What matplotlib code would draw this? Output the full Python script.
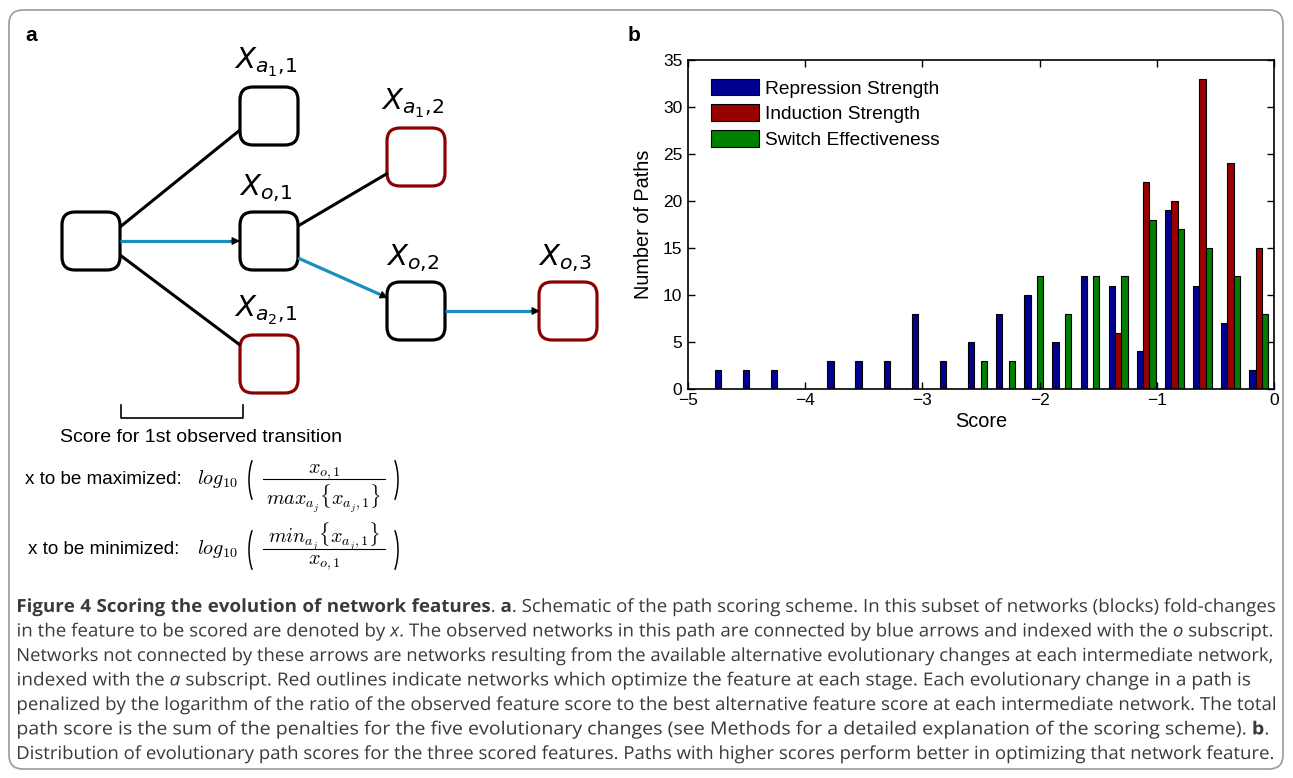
import matplotlib.pyplot as plt
from matplotlib.patches import FancyBboxPatch, PathPatch, Arc
from matplotlib.textpath import TextPath
from matplotlib.font_manager import FontProperties
import matplotlib.transforms as mtransforms
import numpy as np

W, H = 1293, 778

# histogram bins (centres) and counts for the three scored features
BIN_CENTERS = [-4.69, -4.45, -4.21, -3.97, -3.73, -3.49, -3.25, -3.01, -2.77, -2.53,
               -2.29, -2.05, -1.81, -1.57, -1.33, -1.09, -0.85, -0.61, -0.37, -0.13]
REPRESSION = [2, 2, 2, 0, 3, 3, 3, 8, 3, 5, 8, 10, 5, 12, 11, 4, 19, 11, 7, 2]
INDUCTION = [0, 0, 0, 0, 0, 0, 0, 0, 0, 0, 0, 0, 0, 0, 6, 22, 20, 33, 24, 15]
SWITCH = [0, 0, 0, 0, 0, 0, 0, 0, 0, 3, 3, 12, 8, 12, 12, 18, 17, 15, 12, 8]
SERIES_NAMES = ['Repression Strength', 'Induction Strength', 'Switch Effectiveness']
SERIES_COLORS = ['#000090', '#990000', '#007f00']
X_TICKS = [-5, -4, -3, -2, -1, 0]
Y_TICKS = [0, 5, 10, 15, 20, 25, 30, 35]

# schematic nodes: label, red outline
NODE_LABELS = ['', r'$X_{a_1,\!1}$', r'$X_{o,\!1}$', r'$X_{a_2,\!1}$',
               r'$X_{a_1,\!2}$', r'$X_{o,\!2}$', r'$X_{o,\!3}$']
NODE_RED = [False, False, False, True, True, False, True]

# score formulas: label, numerator, denominator
FORMULAS = [
    ('x to be maximized:', r'$x_{o,1}$', r'$max_{a_j}\{x_{a_j,1}\}$'),
    ('x to be minimized:', r'$min_{a_j}\{x_{a_j,1}\}$', r'$x_{o,1}$'),
]

CAPTION_LINES = [
    r'$\mathbf{Figure\ 4\ Scoring\ the\ evolution\ of\ network\ features}$. $\mathbf{a}$. '
    r'Schematic of the path scoring scheme. In this subset of networks (blocks) fold-changes',
    r'in the feature to be scored are denoted by $\mathit{x}$. The observed networks in this path '
    r'are connected by blue arrows and indexed with the $\mathit{o}$ subscript.',
    'Networks not connected by these arrows are networks resulting from the available '
    'alternative evolutionary changes at each intermediate network,',
    r'indexed with the $\mathit{a}$ subscript. Red outlines indicate networks which optimize '
    'the feature at each stage. Each evolutionary change in a path is',
    'penalized by the logarithm of the ratio of the observed feature score to the best '
    'alternative feature score at each intermediate network. The total',
    'path score is the sum of the penalties for the five evolutionary changes (see Methods '
    r'for a detailed explanation of the scoring scheme). $\mathbf{b}$.',
    'Distribution of evolutionary path scores for the three scored features. Paths with '
    'higher scores perform better in optimizing that network feature.',
]
CAPTION_RIGHT = [1275, 1272, 1272, 1250, 1275, 1268, 1273]

CAP_FONT = 'Open Sans'
plt.rcParams['font.family'] = ['Liberation Sans', 'DejaVu Sans']
plt.rcParams['mathtext.fontset'] = 'custom'
plt.rcParams['mathtext.rm'] = CAP_FONT
plt.rcParams['mathtext.it'] = CAP_FONT + ':italic'
plt.rcParams['mathtext.bf'] = CAP_FONT + ':bold'

fig = plt.figure(figsize=(W / 100, H / 100), dpi=100)

# full-figure overlay in pixel coordinates
bg = fig.add_axes([0, 0, 1, 1])
bg.set_xlim(0, W)
bg.set_ylim(H, 0)
bg.axis('off')

bg.add_patch(FancyBboxPatch((9, 10), W - 19, H - 19,
                            boxstyle='round,pad=0,rounding_size=14',
                            fill=False, ec='#9a9a9a', lw=1.2))

bg.text(25, 35, 'a', fontsize=15, fontweight='bold', va='center')
bg.text(628, 35, 'b', fontsize=15, fontweight='bold', va='center')

# ---- panel a: schematic ----
centers = [(91, 241), (269, 116), (269, 241), (269, 364), (416, 157), (416, 311), (568, 311)]
bs = 58
blue = '#1a8fbf'
for (cx, cy), lab, red in zip(centers, NODE_LABELS, NODE_RED):
    bg.add_patch(FancyBboxPatch((cx - bs / 2, cy - bs / 2), bs, bs,
                                boxstyle='round,pad=0,rounding_size=13',
                                fill=False, ec='#8b0000' if red else 'black', lw=2.3))
    if lab:
        bg.text(cx - 3, cy - bs / 2 - 8, lab, fontsize=21, ha='center', va='bottom',
                math_fontfamily='dejavusans')

black_edges = [((120, 227), (240, 130)), ((120, 255), (240, 345)), ((298, 226), (388, 173))]
for p, q in black_edges:
    bg.plot([p[0], q[0]], [p[1], q[1]], color='black', lw=2.2, solid_capstyle='butt')

blue_edges = [((120, 241), (240, 241)), ((298, 258), (388, 298)), ((445, 311), (540, 311))]
for p, q in blue_edges:
    d = np.subtract(q, p) / np.hypot(*np.subtract(q, p))
    mid = np.array(q) - d * 9
    bg.plot([p[0], mid[0]], [p[1], mid[1]], color=blue, lw=2.3, solid_capstyle='butt')
    bg.annotate('', xy=q, xytext=mid,
                arrowprops=dict(arrowstyle='-|>', color='black', lw=0.8,
                                mutation_scale=12, shrinkA=0, shrinkB=0))

bg.plot([121, 121, 243, 243], [405, 418, 418, 405], color='black', lw=1.2)
bg.text(201, 437, 'Score for 1st observed transition', fontsize=14,
        ha='center', va='center')

# formulas built from pieces: log10 ( num / den )
for k, (lab, num, den) in enumerate(FORMULAS):
    yb = 479 + k * 70          # fraction bar
    bg.text(25 + 3 * k, yb, lab, fontsize=13.6, va='center')
    bg.text(197, yb + 5, r'$log_{10}$', fontsize=14.5, va='baseline', math_fontfamily='cm')
    bg.add_patch(Arc((261, yb + 1), 24, 58, theta1=114, theta2=246, color='black', lw=1.1))
    bg.add_patch(Arc((386, yb + 1), 24, 58, theta1=-66, theta2=66, color='black', lw=1.1))
    bg.plot([263, 385], [yb, yb], color='black', lw=0.8)
    bg.text(324, yb - 6, num, fontsize=14.5, ha='center', va='baseline', math_fontfamily='cm')
    bg.text(324, yb + 4, den, fontsize=14.5, ha='center', va='top', math_fontfamily='cm')

# ---- caption: text paths fitted to the line widths ----
cap_prop = FontProperties(family=CAP_FONT)
for i, (line, right) in enumerate(zip(CAPTION_LINES, CAPTION_RIGHT)):
    tp = TextPath((0, 0), line, size=18, prop=cap_prop)
    ext = tp.get_extents()
    sx = (right - 18) / ext.width
    tr = (mtransforms.Affine2D().translate(-ext.x0, 0).scale(sx, -1)
          .translate(18, 612 + i * 24.5) + bg.transData)
    bg.add_patch(PathPatch(tp, transform=tr, fc='#3a3a3a', ec='none', lw=0))

# ---- panel b: histogram ----
ax = fig.add_axes([688 / W, 1 - 389 / H, (1274 - 688) / W, (389 - 60) / H])
bw = 0.054
x = np.array(BIN_CENTERS)
for i, (vals, col, name) in enumerate(zip([REPRESSION, INDUCTION, SWITCH],
                                          SERIES_COLORS, SERIES_NAMES)):
    ax.bar(x + (i - 1) * bw, vals, width=bw, color=col, edgecolor='black',
           linewidth=0.8, label=name)

ax.set_xlim(-5, 0)
ax.set_ylim(0, 35)
ax.set_xticks(X_TICKS)
ax.set_yticks(Y_TICKS)
ax.set_xticklabels(['\u2212%d' % -t if t < 0 else str(t) for t in X_TICKS])
ax.tick_params(direction='in', top=True, right=True, length=5, width=1,
               labelsize=12.5, pad=4)
ax.tick_params(axis='x', pad=3)
for s in ax.spines.values():
    s.set_linewidth(1.2)
ax.set_xlabel('Score', fontsize=14.3, labelpad=3)
ax.set_ylabel('Number of Paths', fontsize=14.3, labelpad=7)
ax.legend(loc='upper left', frameon=False, fontsize=13.8, handlelength=2.5,
          handleheight=0.95, handletextpad=0.3, labelspacing=0.35,
          borderaxespad=0, bbox_to_anchor=(0.026, 0.966))

fig.savefig('out.png', dpi=100)
